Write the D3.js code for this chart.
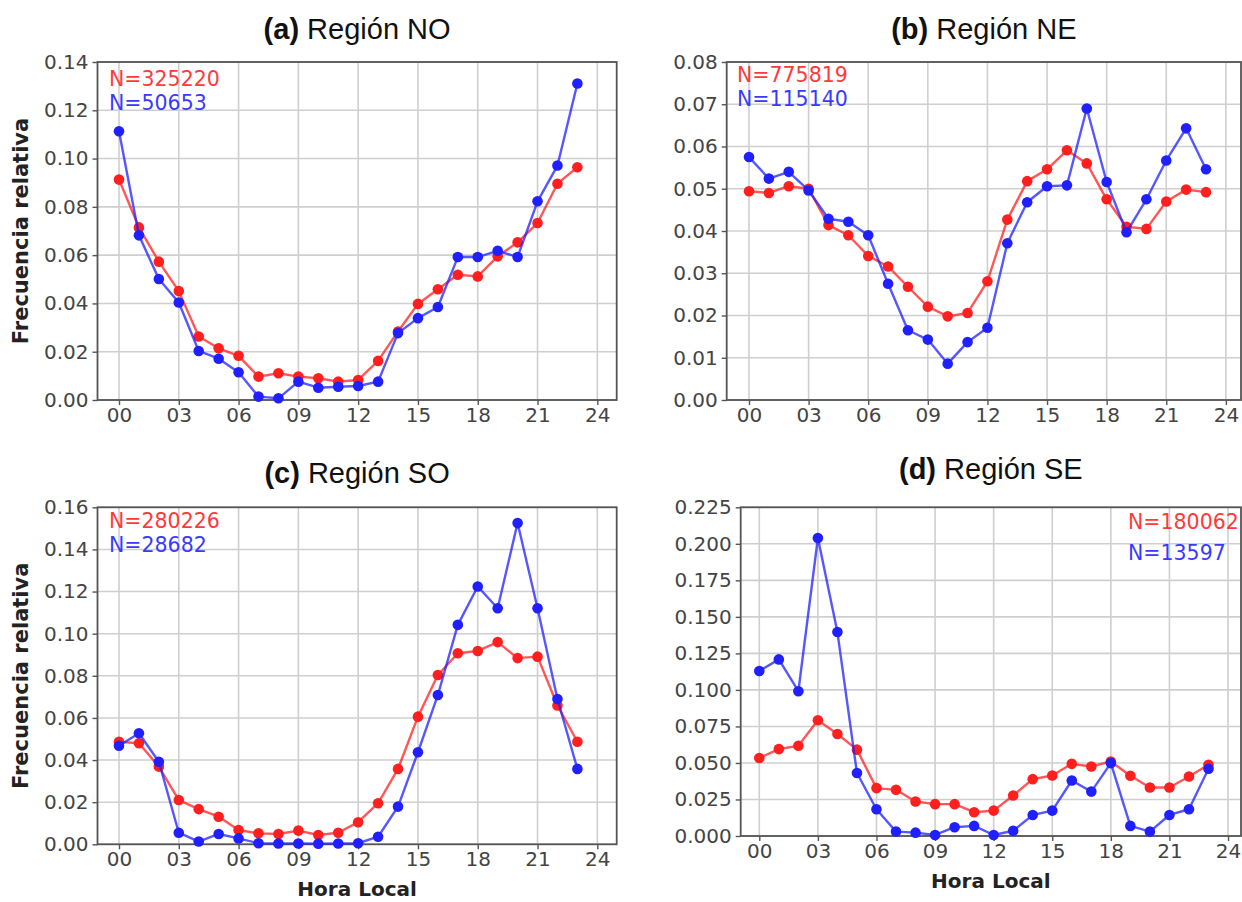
<!DOCTYPE html>
<html>
<head>
<meta charset="utf-8">
<script src="https://cdn.jsdelivr.net/npm/d3@7"></script>
<style>
  html, body { margin: 0; padding: 0; background: #fff; }
  svg { display: block; }
</style>
</head>
<body>
<svg id="chart" width="1242" height="902"></svg>
<script>
// ---------------- DATA ----------------
const hours = [0,1,2,3,4,5,6,7,8,9,10,11,12,13,14,15,16,17,18,19,20,21,22,23];
const xTickValues = [0,3,6,9,12,15,18,21,24];
const xTickLabels = ["00","03","06","09","12","15","18","21","24"];

// (a) Región NO
const noRed  = [0.0913,0.0715,0.0573,0.0451,0.0263,0.0214,0.0183,0.0097,0.0111,0.0097,0.0090,0.0076,0.0083,0.0162,0.0284,0.0398,0.0459,0.0519,0.0512,0.0595,0.0653,0.0733,0.0896,0.0964];
const noBlue = [0.1113,0.0682,0.0501,0.0404,0.0203,0.0171,0.0115,0.0014,0.0007,0.0076,0.0051,0.0055,0.0058,0.0076,0.0277,0.0339,0.0385,0.0592,0.0592,0.0618,0.0592,0.0823,0.0971,0.1311];
// (b) Región NE
const neRed  = [0.0494,0.0490,0.0506,0.0500,0.0414,0.0390,0.0341,0.0316,0.0268,0.0221,0.0198,0.0206,0.0281,0.0427,0.0518,0.0546,0.0591,0.0560,0.0475,0.0410,0.0405,0.0470,0.0498,0.0492];
const neBlue = [0.0575,0.0524,0.0540,0.0496,0.0429,0.0422,0.0390,0.0275,0.0165,0.0143,0.0086,0.0137,0.0171,0.0371,0.0468,0.0506,0.0508,0.0690,0.0516,0.0397,0.0475,0.0567,0.0643,0.0546];
// (c) Región SO
const soRed  = [0.0487,0.0480,0.0369,0.0210,0.0167,0.0131,0.0068,0.0052,0.0049,0.0065,0.0044,0.0055,0.0105,0.0195,0.0358,0.0606,0.0804,0.0907,0.0918,0.0960,0.0884,0.0891,0.0659,0.0487];
const soBlue = [0.0468,0.0527,0.0392,0.0055,0.0013,0.0049,0.0028,0.0005,0.0004,0.0004,0.0003,0.0004,0.0005,0.0036,0.0179,0.0437,0.0709,0.1042,0.1224,0.1121,0.1525,0.1121,0.0690,0.0358];
// (d) Región SE
const seRed  = [0.0534,0.0595,0.0618,0.0792,0.0698,0.0591,0.0328,0.0316,0.0236,0.0218,0.0218,0.0163,0.0174,0.0277,0.0389,0.0414,0.0494,0.0476,0.0510,0.0412,0.0332,0.0332,0.0407,0.0488];
const seBlue = [0.1129,0.1209,0.0991,0.2040,0.1396,0.0431,0.0183,0.0030,0.0023,0.0007,0.0060,0.0069,0.0007,0.0036,0.0144,0.0174,0.0380,0.0304,0.0499,0.0069,0.0030,0.0144,0.0183,0.0460];

const yTicksNO = [0,0.02,0.04,0.06,0.08,0.10,0.12,0.14];
const yTicksNE = [0,0.01,0.02,0.03,0.04,0.05,0.06,0.07,0.08];
const yTicksSO = [0,0.02,0.04,0.06,0.08,0.10,0.12,0.14,0.16];
const yTicksSE = [0,0.025,0.05,0.075,0.1,0.125,0.15,0.175,0.2,0.225];

const titleLetters = ["(a)","(b)","(c)","(d)"];
const titleNames = [" Región NO"," Región NE"," Región SO"," Región SE"];
const nRedLabels  = ["N=325220","N=775819","N=280226","N=180062"];
const nBlueLabels = ["N=50653","N=115140","N=28682","N=13597"];
const yAxisLabel = "Frecuencia relativa";
const xAxisLabel = "Hora Local";

// ---------------- LAYOUT ----------------
const panels = [
  {red: noRed, blue: noBlue, yTicks: yTicksNO, fmt: ".2f", box: {l: 97.5, t: 62, r: 616.7, b: 400},
   x0: 119, dx: 19.93, yLabel: true, xLabel: false, nPos: {x: 109, y1: 79, y2: 103},
   titleY: 29},
  {red: neRed, blue: neBlue, yTicks: yTicksNE, fmt: ".2f", box: {l: 726.7, t: 62, r: 1241, b: 400},
   x0: 749, dx: 19.87, yLabel: false, xLabel: false, nPos: {x: 737, y1: 75, y2: 99},
   titleY: 29},
  {red: soRed, blue: soBlue, yTicks: yTicksSO, fmt: ".2f", box: {l: 97.5, t: 507.3, r: 616.7, b: 844.3},
   x0: 119, dx: 19.93, yLabel: true, xLabel: true, nPos: {x: 109, y1: 521, y2: 545},
   titleY: 473},
  {red: seRed, blue: seBlue, yTicks: yTicksSE, fmt: ".3f", box: {l: 740.7, t: 507.3, r: 1241, b: 836},
   x0: 759.3, dx: 19.53, yLabel: false, xLabel: true, nPos: {x: 1128, y1: 522, y2: 553},
   titleY: 469}
];

const svg = d3.select("#chart");
const gridColor = "#cfcfcf";
const spineColor = "#555555";
const tickTextColor = "#444444";
const redColor = "#ff1f1f";
const blueColor = "#1f1fff";

panels.forEach((p, i) => {
  const {l, t, r, b} = p.box;
  const xMin = (l - p.x0) / p.dx;
  const xMax = (r - p.x0) / p.dx;
  const x = d3.scaleLinear().domain([xMin, xMax]).range([l, r]);
  const yMax = p.yTicks[p.yTicks.length - 1];
  const y = d3.scaleLinear().domain([0, yMax]).range([b, t]);

  const g = svg.append("g");

  // grid
  g.append("g").selectAll("line").data(xTickValues).join("line")
    .attr("x1", d => x(d)).attr("x2", d => x(d)).attr("y1", t).attr("y2", b)
    .attr("stroke", gridColor).attr("stroke-width", 1.6);
  g.append("g").selectAll("line").data(p.yTicks).join("line")
    .attr("x1", l).attr("x2", r).attr("y1", d => y(d)).attr("y2", d => y(d))
    .attr("stroke", gridColor).attr("stroke-width", 1.6);

  // axes
  const xAxis = d3.axisBottom(x).tickValues(xTickValues)
    .tickFormat((d, k) => xTickLabels[k]).tickSize(5).tickPadding(3);
  const yAxis = d3.axisLeft(y).tickValues(p.yTicks)
    .tickFormat(d3.format(p.fmt)).tickSize(5).tickPadding(4);

  const gx = g.append("g").attr("transform", `translate(0,${b})`).call(xAxis);
  const gy = g.append("g").attr("transform", `translate(${l},0)`).call(yAxis);
  [gx, gy].forEach(ax => {
    ax.select(".domain").remove();
    ax.selectAll(".tick line").attr("stroke", spineColor).attr("stroke-width", 1.4);
    ax.selectAll(".tick text").attr("fill", tickTextColor)
      .style("font-family", "'DejaVu Sans', sans-serif").style("font-size", "20px");
  });

  // frame
  g.append("rect").attr("x", l).attr("y", t).attr("width", r - l).attr("height", b - t)
    .attr("fill", "none").attr("stroke", spineColor).attr("stroke-width", 1.8);

  // series
  const line = d3.line().x((d, k) => x(hours[k])).y(d => y(d));
  [[p.red, redColor], [p.blue, blueColor]].forEach(([vals, col]) => {
    g.append("path").datum(vals).attr("d", line)
      .attr("fill", "none").attr("stroke", col).attr("stroke-width", 2.4)
      .attr("stroke-opacity", 0.75).attr("stroke-linejoin", "round");
    g.append("g").selectAll("circle").data(vals).join("circle")
      .attr("cx", (d, k) => x(hours[k])).attr("cy", d => y(d)).attr("r", 5.3)
      .attr("fill", col);
  });

  // N labels
  g.append("text").attr("x", p.nPos.x).attr("y", p.nPos.y1).attr("dy", "0.36em")
    .attr("fill", "#ff3a3a").style("font-family", "'DejaVu Sans', sans-serif")
    .style("font-size", "20.5px").text(nRedLabels[i]);
  g.append("text").attr("x", p.nPos.x).attr("y", p.nPos.y2).attr("dy", "0.36em")
    .attr("fill", "#3a3aff").style("font-family", "'DejaVu Sans', sans-serif")
    .style("font-size", "20.5px").text(nBlueLabels[i]);

  // title
  const title = g.append("text").attr("x", (l + r) / 2).attr("y", p.titleY).attr("dy", "0.35em")
    .attr("text-anchor", "middle").attr("fill", "#111")
    .style("font-family", "'Liberation Sans', Arial, sans-serif").style("font-size", "29px");
  title.append("tspan").attr("font-weight", "bold").text(titleLetters[i]);
  title.append("tspan").text(titleNames[i]);

  // axis labels
  if (p.yLabel) {
    g.append("text").attr("transform", `translate(21,${(t + b) / 2}) rotate(-90)`)
      .attr("text-anchor", "middle").attr("dy", "0.35em").attr("fill", "#222")
      .style("font-family", "'DejaVu Sans', sans-serif").style("font-weight", "bold")
      .style("font-size", "21px").text(yAxisLabel);
  }
  if (p.xLabel) {
    g.append("text").attr("x", (l + r) / 2).attr("y", b + 45).attr("dy", "0.35em")
      .attr("text-anchor", "middle").attr("fill", "#222")
      .style("font-family", "'DejaVu Sans', sans-serif").style("font-weight", "bold")
      .style("font-size", "20px").text(xAxisLabel);
  }
});
</script>
</body>
</html>
